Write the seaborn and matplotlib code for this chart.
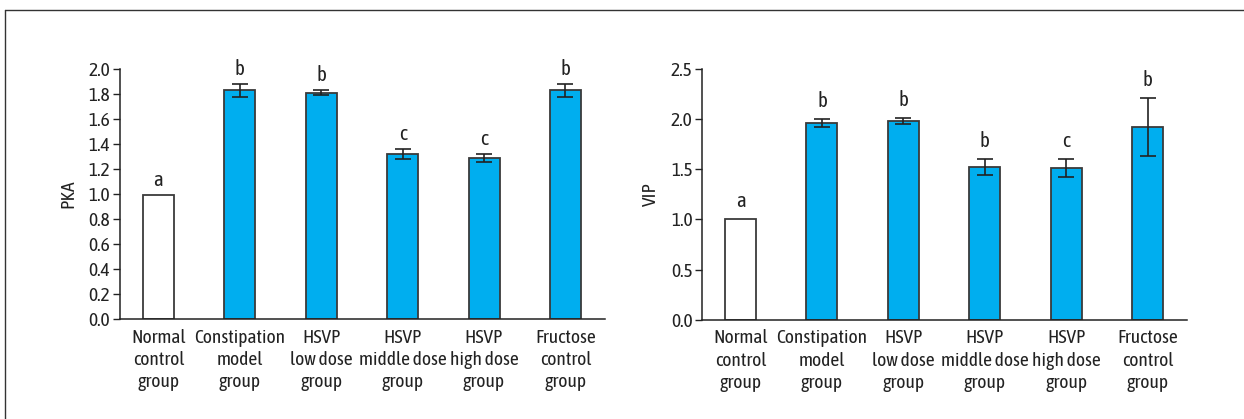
import matplotlib
matplotlib.use("Agg")
import matplotlib.pyplot as plt
import matplotlib.lines as mlines
import seaborn as sns
import pandas as pd

groups = ["Normal\ncontrol\ngroup", "Constipation\nmodel\ngroup", "HSVP\nlow dose\ngroup",
          "HSVP\nmiddle dose\ngroup", "HSVP\nhigh dose\ngroup", "Fructose\ncontrol\ngroup"]

pka_mean = [0.99, 1.83, 1.81, 1.32, 1.29, 1.83]
pka_err = [0.0, 0.05, 0.02, 0.04, 0.03, 0.05]
pka_letters = ["a", "b", "b", "c", "c", "b"]

vip_mean = [1.00, 1.96, 1.98, 1.52, 1.51, 1.92]
vip_err = [0.0, 0.04, 0.03, 0.08, 0.09, 0.29]
vip_letters = ["a", "b", "b", "b", "c", "b"]

sns.set_theme(style="white")
plt.rcParams["font.family"] = ["Asap Condensed", "DejaVu Sans"]

BLUE = "#00AEEF"
EDGE = "#3a3a3a"
TEXT = "#222222"
FS = 14
colors = ["white"] + [BLUE] * 5

fig = plt.figure(figsize=(12.44, 4.19), dpi=100)
ax1 = fig.add_axes([0.0965, 0.239, 0.3895, 0.596])
ax2 = fig.add_axes([0.5645, 0.237, 0.3895, 0.598])


def draw(ax, means, errs, letters, ylabel, ymax, step, letter_pad):
    df = pd.DataFrame({"group": groups, "value": means})
    sns.barplot(data=df, x="group", y="value", hue="group", palette=colors,
                legend=False, width=0.38, edgecolor=EDGE, linewidth=1.3,
                saturation=1, ax=ax)
    xs = list(range(len(groups)))
    ax.errorbar([x for x, e in zip(xs, errs) if e > 0],
                [m for m, e in zip(means, errs) if e > 0],
                yerr=[e for e in errs if e > 0], fmt="none", ecolor=TEXT,
                elinewidth=1.2, capsize=6, capthick=1.2)
    for x, m, e, t in zip(xs, means, errs, letters):
        ax.text(x, m + e + letter_pad, t, ha="center", va="bottom",
                fontsize=FS + 1, color=TEXT)
    ax.set_xlim(-0.47, 5.48)
    ax.set_ylim(0, ymax)
    ticks = [i * step for i in range(int(round(ymax / step)) + 1)]
    ax.set_yticks(ticks)
    ax.set_yticklabels([f"{t:.1f}" for t in ticks], fontsize=FS, color=TEXT)
    ax.tick_params(axis="y", direction="out", length=5, width=1, color=TEXT,
                   pad=2, left=True)
    ax.tick_params(axis="x", length=0, labelsize=FS, labelcolor=TEXT, pad=7)
    ax.set_xlabel("")
    ax.set_ylabel(ylabel, fontsize=FS, color=TEXT, labelpad=8)
    for s in ["top", "right"]:
        ax.spines[s].set_visible(False)
    for s in ["left", "bottom"]:
        ax.spines[s].set_color(TEXT)
        ax.spines[s].set_linewidth(1.1)
    for lbl in ax.get_xticklabels():
        lbl.set_linespacing(1.3)


draw(ax1, pka_mean, pka_err, pka_letters, "PKA", 2.0, 0.2, 0.04)
draw(ax2, vip_mean, vip_err, vip_letters, "VIP", 2.5, 0.5, 0.08)

# thin frame along the top and left edges
fig.add_artist(mlines.Line2D([0.004, 1.0], [0.976, 0.976], transform=fig.transFigure,
                             color="#333333", linewidth=1.0))
fig.add_artist(mlines.Line2D([0.004, 0.004], [0.0, 0.976], transform=fig.transFigure,
                             color="#333333", linewidth=1.0))

fig.savefig("out.png", dpi=100, facecolor="white")
